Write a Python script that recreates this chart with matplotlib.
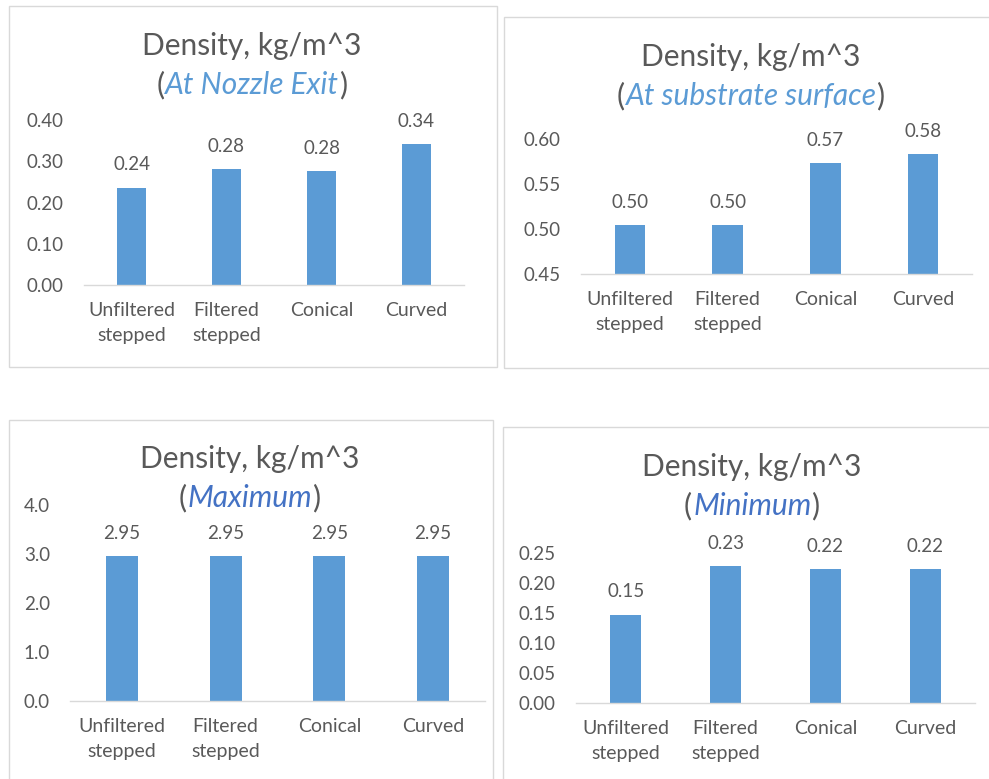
import matplotlib
matplotlib.use("Agg")
import matplotlib.pyplot as plt
from matplotlib.patches import Rectangle
from matplotlib.ticker import FixedLocator, FormatStrFormatter

# ---- data ----
categories = ["Unfiltered\nstepped", "Filtered\nstepped", "Conical", "Curved"]
density_nozzle_exit = [0.236, 0.281, 0.276, 0.341]
density_substrate = [0.504, 0.504, 0.573, 0.583]
density_maximum = [2.95, 2.95, 2.95, 2.95]
density_minimum = [0.147, 0.228, 0.223, 0.223]

ticks_nozzle_exit = [0.00, 0.10, 0.20, 0.30, 0.40]
ticks_substrate = [0.45, 0.50, 0.55, 0.60]
ticks_maximum = [0.0, 1.0, 2.0, 3.0, 4.0]
ticks_minimum = [0.00, 0.05, 0.10, 0.15, 0.20, 0.25]

title_text = "Density, kg/m^3"
subtitles = ["At Nozzle Exit", "At substrate surface", "Maximum", "Minimum"]

# ---- style ----
W, H = 989, 779
FONT = "Lato"
BAR = "#5B9BD5"
GREY = "#595959"
LINE = "#D9D9D9"
SUB_LIGHT = "#5B9BD5"
SUB_DARK = "#4472C4"
TITLE_SIZE = 21.5
TICK_SIZE = 13.5
CAT_SIZE = 14

plt.rcParams["font.family"] = [FONT, "DejaVu Sans"]

fig = plt.figure(figsize=(W / 100, H / 100), dpi=100)
fig.patch.set_facecolor("white")
renderer = fig.canvas.get_renderer()


def fx(px):
    return px / W


def fy(py):
    return 1 - py / H


def frame(x0, y0, x1, y1):
    fig.patches.append(Rectangle((fx(x0), fy(y1)), fx(x1) - fx(x0), fy(y0) - fy(y1),
                                 transform=fig.transFigure, fill=False,
                                 edgecolor=LINE, linewidth=1.0, zorder=0))


def titles(cx, y_title, y_sub, sub, sub_color):
    fig.text(fx(cx), fy(y_title), title_text, ha="center", va="baseline",
             fontsize=TITLE_SIZE, color=GREY)
    # "(" and ")" in grey around the italic coloured subtitle
    parts = [("(", GREY, "normal", 1), (sub, sub_color, "italic", 0.5),
             (")", GREY, "normal", 0)]
    texts = []
    advances = []
    for s, c, st, gap in parts:
        t = fig.text(0, fy(y_sub), s, ha="left", va="baseline",
                     fontsize=TITLE_SIZE, color=c, style=st)
        texts.append(t)
        advances.append(t.get_window_extent(renderer).width + gap)
    x = cx - sum(advances) / 2
    for t, a in zip(texts, advances):
        t.set_x(fx(x))
        x += a


def panel(x0, x1, ytop, ybot, values, ticks, ylim, fmt):
    ax = fig.add_axes([fx(x0), fy(ybot), fx(x1) - fx(x0), fy(ytop) - fy(ybot)])
    xs = list(range(len(categories)))
    ax.bar(xs, values, width=0.31, color=BAR, zorder=2)
    ax.set_xlim(-0.5, len(categories) - 0.5)
    ax.set_ylim(*ylim)
    for s in ("top", "right", "left"):
        ax.spines[s].set_visible(False)
    ax.spines["bottom"].set_color(LINE)
    ax.spines["bottom"].set_linewidth(1.0)
    ax.yaxis.set_major_locator(FixedLocator(ticks))
    ax.yaxis.set_major_formatter(FormatStrFormatter(fmt))
    ax.tick_params(axis="y", length=0, pad=14.5, labelsize=TICK_SIZE, labelcolor=GREY)
    ax.set_xticks(xs)
    ax.set_xticklabels(categories)
    ax.tick_params(axis="x", length=0, pad=12.5, labelsize=CAT_SIZE, labelcolor=GREY)
    for lab in ax.get_xticklabels():
        lab.set_linespacing(1.55)
        lab.set_verticalalignment("top")
    ax.set_facecolor("none")
    for x, v in zip(xs, values):
        ax.annotate(f"{v:.2f}", (x, v), xytext=(0, 12.5), textcoords="offset points",
                    ha="center", va="baseline", fontsize=TICK_SIZE, color=GREY)
    return ax


# panel frames
frame(9, 6, 497, 367)
frame(504, 17, 995, 368)
frame(9, 420, 493, 785)
frame(503, 427, 995, 785)

# top-left: at nozzle exit
titles(252, 55, 94, subtitles[0], SUB_LIGHT)
panel(84, 464, 120, 285, density_nozzle_exit, ticks_nozzle_exit, (0, 0.40), "%.2f")

# top-right: at substrate surface
titles(751, 66, 105, subtitles[1], SUB_LIGHT)
panel(581, 972, 139, 274, density_substrate, ticks_substrate, (0.45, 0.60), "%.2f")

# bottom-left: maximum
titles(250, 468, 507, subtitles[2], SUB_DARK)
panel(70, 485, 505, 701, density_maximum, ticks_maximum, (0, 4.0), "%.1f")

# bottom-right: minimum
titles(752, 476, 515, subtitles[3], SUB_DARK)
panel(576, 975, 553, 703, density_minimum, ticks_minimum, (0, 0.25), "%.2f")

fig.savefig("out.png", dpi=100, facecolor="white")
